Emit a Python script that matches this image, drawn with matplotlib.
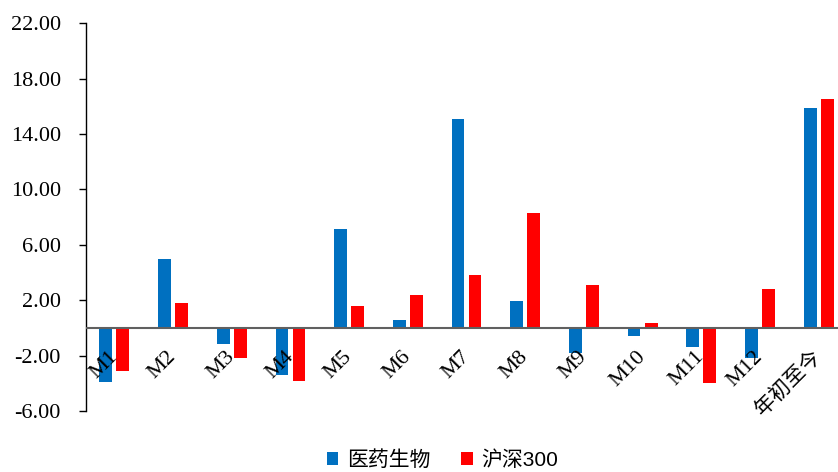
import matplotlib.pyplot as plt
import numpy as np

# 月度涨跌幅 (%)
labels = ["M1", "M2", "M3", "M4", "M5", "M6", "M7", "M8", "M9", "M10", "M11", "M12", "年初至今"]
pharma = [-3.87, 4.98, -1.18, -3.40, 7.14, 0.58, 15.08, 1.93, -1.83, -0.55, -1.40, -2.19, 15.87]
hs300 = [-3.10, 1.78, -2.14, -3.82, 1.60, 2.40, 3.82, 8.30, 3.10, 0.34, -4.00, 2.80, 16.50]
yticks = [-6, -2, 2, 6, 10, 14, 18, 22]

serif = ["Liberation Serif", "Noto Sans CJK SC"]
sans = ["Liberation Sans", "Noto Sans CJK SC"]

fig = plt.figure(figsize=(8.38, 4.72), dpi=100)
ax = fig.add_axes([0.1026, 0.129, 0.9103, 0.822])

x = np.arange(len(labels))
w = 0.22
ax.bar(x - 0.16, pharma, w, color="#0070C0", label="医药生物", zorder=2)
ax.bar(x + 0.13, hs300, w, color="#FF0000", label="沪深300", zorder=2)

ax.axhline(0, color="#606060", lw=1.5, zorder=3)

ax.set_xlim(-0.5, len(labels) - 0.5)
ax.set_ylim(-6, 22)
ax.set_yticks(yticks)
ax.set_yticklabels([f"{v:.2f}" for v in yticks], fontfamily=serif, fontsize=16)
ax.tick_params(axis="y", direction="out", length=5, width=1, pad=13)
ax.set_xticks([])

for s in ["top", "right", "bottom"]:
    ax.spines[s].set_visible(False)
ax.spines["left"].set_linewidth(1)

# 类别标签贴着零轴下方，旋转 45 度
for i, lab in enumerate(labels):
    cjk = not lab.startswith("M")
    ax.annotate(lab, xy=(i, 0), xytext=(6, -19), textcoords="offset pixels",
                rotation=45, ha="right", va="top", fontsize=15 if cjk else 16,
                fontfamily=serif, zorder=4)

fig.legend(loc="lower center", bbox_to_anchor=(0.528, -0.035), ncol=2,
           frameon=False, prop={"family": sans, "size": 15},
           handlelength=0.55, handleheight=0.55, handletextpad=0.4,
           columnspacing=1.5)

fig.savefig("out.png", dpi=100)
